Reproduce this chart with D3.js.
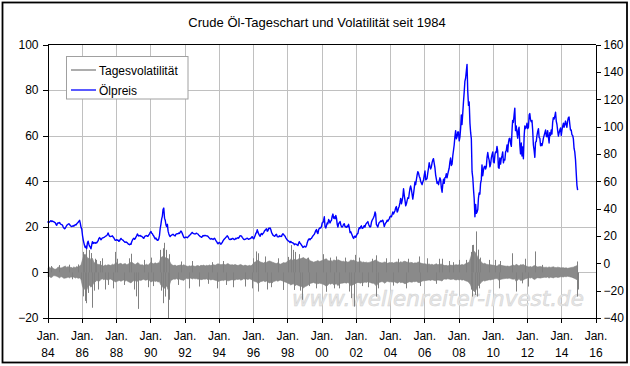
<!DOCTYPE html>
<html><head><meta charset="utf-8">
<script src="https://cdn.jsdelivr.net/npm/d3@7"></script>
<style>
body{margin:0;background:#fff;}
svg{display:block;font-family:"Liberation Sans",Arial,sans-serif;}
</style></head><body>
<svg id="c" width="630" height="366"></svg>
<script>
// ---- DATA ----
const title = "Crude Öl-Tageschart und Volatilität seit 1984";
const seriesNames = ["Tagesvolatilität", "Ölpreis"];
const xTickYears = [1984,1986,1988,1990,1992,1994,1996,1998,2000,2002,2004,2006,2008,2010,2012,2014,2016];
const xTickLabels = ["84","86","88","90","92","94","96","98","00","02","04","06","08","10","12","14","16"];
const leftTicks = [-20,0,20,40,60,80,100];
const rightTicks = [-40,-20,0,20,40,60,80,100,120,140,160];
const watermark = "www.wellenreiter-invest.de";

// Ölpreis (right axis), two readings per month (1st/16th), 1984..2014
const oilYears = [1984,1985,1986,1987,1988,1989,1990,1991,1992,1993,1994,1995,1996,1997,1998,1999,2000,2001,2002,2003,2004,2005,2006,2007,2008,2009,2010,2011,2012,2013,2014];
const oilPrice = [
 29.9,30.4,30.0,30.3,30.8,31.2,30.6,30.9,30.5,30.4,29.9,29.6,28.4,27.8,29.2,29.6,29.4,29.8,28.9,28.5,28.2,27.9,26.5,25.8,
 25.2,25.8,26.9,27.8,28.2,28.6,28.9,28.5,27.6,27.2,26.9,27.3,27.1,27.6,27.5,28.3,28.0,28.9,29.4,30.0,30.8,31.4,29.2,26.3,
 25.0,20.5,17.2,14.8,13.0,11.5,12.5,10.8,14.8,16.2,14.0,12.5,11.8,10.6,13.5,15.8,14.5,15.2,15.0,14.6,15.2,14.9,15.8,16.5,
 18.2,18.8,18.0,17.2,17.9,18.6,18.7,18.9,19.2,19.6,20.0,20.3,21.0,22.2,20.8,19.8,19.5,19.7,19.8,20.1,19.2,18.6,17.6,16.8,
 17.0,17.3,16.8,16.9,16.1,16.4,17.5,18.2,17.6,17.2,16.8,16.2,15.7,15.3,15.6,15.3,14.8,14.2,13.8,13.6,14.2,13.9,15.8,16.9,
 17.8,18.3,17.6,18.1,19.2,20.1,21.5,20.5,19.9,20.2,20.3,19.7,19.8,19.3,18.6,18.3,19.5,20.0,20.1,20.3,19.7,19.9,20.8,21.6,
 22.6,23.2,22.0,21.6,20.6,20.0,18.8,17.8,18.5,17.6,16.8,16.9,17.9,20.2,25.6,28.5,32.5,34.5,39.5,40.4,33.0,31.5,28.2,26.8,
 28.5,23.5,21.5,20.1,19.5,20.3,20.6,20.9,21.2,20.8,20.2,20.0,21.2,21.5,21.7,21.6,22.1,21.8,22.8,23.6,22.9,21.7,20.4,19.1,
 18.6,18.9,19.2,18.9,18.7,19.3,19.8,20.5,20.8,21.4,22.2,22.6,21.9,21.7,21.5,21.4,21.8,22.0,21.6,21.3,20.6,20.1,19.5,19.4,
 19.0,19.6,20.3,20.0,20.4,20.2,20.3,20.1,20.0,19.7,18.9,18.5,17.8,17.7,18.1,17.8,17.4,17.9,18.3,17.6,16.5,16.0,14.8,14.2,
 14.9,15.3,14.5,14.0,14.6,15.2,16.4,17.2,17.8,18.3,19.0,19.5,20.1,19.4,18.3,17.5,17.3,17.8,17.5,18.2,18.1,17.7,17.3,17.6,
 18.3,18.0,18.5,18.8,18.4,19.3,20.2,20.1,19.8,19.0,18.2,17.6,17.4,17.5,17.8,18.0,18.4,17.9,17.5,17.9,18.1,18.3,19.1,19.5,
 18.4,17.9,19.0,20.4,21.8,22.5,24.5,22.8,21.5,20.5,19.8,21.2,21.8,20.9,21.8,22.3,23.6,24.2,24.8,25.2,23.5,23.9,25.6,25.4,
 25.9,24.5,22.4,21.5,20.6,20.3,19.8,20.0,21.0,21.2,19.5,19.3,19.4,20.1,19.6,19.9,19.6,21.1,21.6,21.0,20.3,19.8,18.6,17.8,
 17.0,16.6,16.2,15.8,15.2,16.0,15.4,15.0,14.9,14.5,13.6,14.2,14.0,13.8,13.4,13.0,14.8,15.8,14.7,14.2,13.2,12.5,11.6,11.9,
 12.5,12.2,11.9,13.0,14.8,16.4,17.5,17.9,17.2,18.0,18.2,19.2,20.0,20.6,21.2,22.5,23.9,24.7,22.5,21.8,24.5,25.5,26.0,25.8,
 27.0,29.5,29.8,31.5,34.0,27.0,25.8,27.5,29.5,29.0,32.0,31.0,29.5,30.8,31.5,34.5,36.0,33.0,34.0,32.5,35.0,33.0,28.5,26.5,
 29.0,29.8,30.5,28.2,26.8,26.5,27.2,28.5,29.0,27.0,26.5,26.3,27.3,26.8,28.5,26.0,22.5,23.0,21.8,20.5,19.0,18.2,19.5,19.8,
 19.0,20.4,21.5,21.9,24.5,26.0,25.5,26.8,27.4,25.5,25.8,26.6,27.5,26.4,28.5,29.2,29.8,30.5,28.6,27.3,26.5,27.0,30.0,31.5,
 32.5,33.5,35.0,37.5,36.0,28.5,27.5,26.5,28.5,29.8,30.2,31.0,30.5,31.2,31.5,29.5,26.8,28.5,29.5,30.0,31.5,30.8,31.8,32.5,
 34.0,34.5,34.0,35.8,37.5,36.0,37.3,38.5,40.5,41.5,37.5,38.3,40.5,41.8,44.5,47.5,43.5,45.8,49.0,54.5,49.5,46.0,42.0,43.5,
 46.0,48.0,47.5,51.5,54.5,56.5,54.0,50.5,47.0,50.5,55.0,59.5,57.5,61.0,64.5,67.0,66.0,63.5,62.5,60.0,58.5,57.5,59.5,61.0,
 64.5,67.5,61.0,61.5,62.0,66.0,69.5,73.5,71.0,69.0,70.5,73.5,75.5,76.5,73.0,70.0,64.5,61.5,58.5,59.5,57.5,60.5,62.5,61.0,
 55.0,52.0,58.0,61.5,58.5,62.5,63.0,65.5,62.5,65.0,67.5,69.5,74.0,77.0,71.5,72.5,78.5,82.5,86.5,92.5,97.0,91.0,92.5,96.0,
 96.0,89.5,92.5,99.0,108.5,101.5,110.0,118.0,125.0,133.0,135.5,140.5,145.5,126.0,115.5,118.0,102.5,95.5,91.0,67.0,62.5,54.0,47.0,34.0,
 43.0,36.5,37.5,39.5,47.5,51.5,50.5,58.5,61.0,72.0,64.0,68.0,70.5,71.0,69.0,70.5,77.5,81.0,77.5,75.5,70.5,72.5,77.0,79.5,
 81.5,74.0,73.5,79.5,81.5,81.0,85.5,82.0,70.0,69.5,77.0,72.5,76.5,78.5,81.5,73.5,76.0,75.5,81.5,82.5,86.5,81.5,88.0,91.0,
 91.5,87.5,85.5,97.5,104.5,103.0,108.5,113.5,97.0,100.5,95.5,91.5,97.5,99.5,86.5,80.0,88.0,78.5,85.0,76.5,93.0,100.5,98.5,99.5,
 102.5,98.5,99.5,108.5,109.5,105.0,103.5,104.5,97.5,86.5,82.5,77.5,88.5,89.0,93.5,96.5,98.5,92.0,91.5,86.0,87.5,86.0,88.5,91.5,
 93.5,95.5,97.5,93.0,92.5,97.0,92.5,88.0,95.5,93.5,97.5,94.5,103.0,106.5,105.5,107.5,110.5,104.0,101.5,97.0,93.0,95.5,97.5,99.0,
 93.5,97.5,100.5,102.5,99.5,101.5,104.0,101.5,99.5,104.0,106.5,107.0,102.0,97.5,97.5,94.0,93.5,91.0,84.0,81.5,75.5,66.0,57.0,53.5
];

// Tagesvolatilität (left axis): monthly upper / lower envelope of the dense band
const volHigh = [
 2.0,2.3,1.8,2.2,1.5,1.4,1.6,2.4,2.1,1.9,2.2,2.5,
 2.8,2.2,2.6,2.0,2.3,1.9,2.4,2.1,2.6,2.3,2.8,3.2,
 5.5,7.5,8.0,7.0,6.0,6.5,5.5,6.2,4.5,4.0,3.8,3.5,
 3.5,3.2,3.0,2.8,3.3,3.0,3.4,3.2,3.0,3.6,3.3,4.0,
 4.2,3.6,3.8,4.0,3.5,3.7,3.9,3.4,3.6,4.1,4.5,4.3,
 3.8,3.5,3.9,4.3,3.6,3.2,3.4,3.0,3.3,3.6,3.1,3.8,
 4.5,4.0,3.8,4.2,3.9,4.1,4.4,6.5,6.8,7.5,6.5,6.0,
 6.2,5.0,3.8,3.3,3.0,3.2,2.8,3.0,3.1,3.3,3.0,3.4,
 3.0,2.8,2.6,2.9,2.7,3.0,2.8,2.6,2.9,3.0,2.7,3.1,
 3.0,3.2,2.8,3.1,2.9,3.3,3.0,3.2,3.4,3.1,3.5,3.8,
 3.6,3.4,3.5,3.8,3.3,3.6,3.9,3.5,3.3,3.4,3.2,3.5,
 3.2,3.0,3.3,3.5,3.1,2.9,3.2,3.0,2.8,3.1,2.9,3.2,
 4.2,4.6,4.8,5.5,4.9,4.5,4.3,4.1,4.6,4.4,4.8,5.0,
 4.8,4.5,4.3,4.0,3.9,4.2,3.8,3.6,4.0,4.3,4.1,4.5,
 5.0,5.3,5.8,5.5,5.2,6.0,5.5,5.7,6.2,6.0,6.3,6.5,
 6.0,5.8,6.3,5.5,5.0,4.8,4.5,4.7,4.9,5.2,4.8,5.0,
 5.2,5.5,5.8,6.0,5.2,5.0,5.4,4.8,5.5,5.3,5.0,5.6,
 5.3,5.0,4.8,4.9,4.6,4.8,4.5,4.7,5.5,5.2,5.4,5.0,
 4.8,4.5,4.7,4.9,4.4,4.6,4.3,4.5,4.2,4.4,4.6,4.8,
 5.0,5.3,5.5,4.8,4.5,4.3,4.1,4.4,4.6,4.2,4.0,4.3,
 4.2,4.4,4.1,4.3,4.6,4.5,4.2,4.7,4.4,4.8,4.9,4.6,
 4.5,4.2,4.4,4.3,4.0,4.2,4.1,4.5,4.6,4.1,3.9,3.8,
 3.8,3.6,3.5,3.7,3.4,3.6,3.3,3.5,3.8,3.4,3.5,3.6,
 3.6,3.2,3.0,3.1,2.9,3.0,3.2,3.1,3.0,3.3,3.4,3.2,
 3.4,3.2,3.5,3.3,3.6,4.0,4.2,4.5,6.5,8.5,9.5,9.0,
 8.0,6.5,6.0,5.0,4.2,3.8,4.0,3.6,3.5,3.3,3.4,3.2,
 3.1,3.0,2.8,2.9,3.5,3.2,3.0,2.9,2.8,2.7,2.8,2.6,
 2.8,3.0,3.2,2.9,3.6,3.2,2.8,3.4,3.3,3.5,3.0,2.8,
 2.5,2.4,2.6,2.3,2.8,3.0,2.7,2.4,2.5,2.6,2.4,2.3,
 2.2,2.3,2.1,2.4,2.2,2.3,2.5,2.2,2.1,2.3,2.2,2.0,
 2.0,2.1,1.9,2.0,1.8,1.9,2.1,2.2,2.3,2.6,2.8,3.2
];
const volLow = [
 -2.1,-1.8,-2.3,-1.9,-1.4,-1.5,-1.7,-2.0,-2.4,-1.8,-2.1,-2.6,
 -2.5,-2.3,-2.0,-2.4,-1.9,-2.2,-2.0,-2.5,-2.2,-2.6,-2.4,-3.0,
 -6.0,-7.5,-7.0,-7.8,-6.2,-5.5,-6.5,-5.8,-4.5,-4.2,-3.5,-3.8,
 -3.8,-3.0,-2.8,-3.2,-2.9,-3.1,-3.3,-3.0,-2.9,-3.4,-3.5,-4.2,
 -4.0,-3.7,-3.5,-3.9,-3.6,-3.3,-3.8,-3.6,-4.0,-4.3,-4.6,-4.0,
 -3.6,-3.8,-3.4,-4.0,-3.3,-3.5,-3.2,-3.0,-3.4,-3.3,-3.1,-3.6,
 -4.2,-3.9,-3.6,-4.0,-3.8,-4.2,-4.0,-5.5,-6.2,-7.0,-6.8,-5.8,
 -7.5,-5.5,-3.6,-3.2,-2.9,-3.0,-2.7,-3.1,-2.9,-3.2,-3.3,-3.5,
 -2.9,-2.6,-2.8,-2.7,-2.5,-2.9,-2.6,-2.8,-2.7,-3.0,-2.8,-3.2,
 -3.1,-2.9,-3.0,-2.8,-3.2,-3.0,-3.3,-3.1,-3.2,-3.4,-3.6,-4.0,
 -3.8,-3.5,-3.4,-3.6,-3.2,-3.5,-3.7,-3.6,-3.3,-3.2,-3.4,-3.3,
 -3.0,-3.1,-2.9,-3.4,-3.2,-2.8,-3.0,-2.9,-3.1,-2.8,-3.0,-3.3,
 -3.8,-4.0,-4.2,-4.8,-4.5,-4.0,-3.9,-3.7,-4.1,-3.8,-4.2,-4.6,
 -4.4,-4.6,-4.0,-3.8,-3.6,-3.9,-3.5,-3.4,-3.7,-4.0,-4.2,-4.4,
 -4.8,-5.0,-5.5,-5.2,-5.0,-5.8,-5.4,-5.6,-6.0,-5.8,-6.4,-6.8,
 -6.2,-6.0,-5.6,-5.2,-4.8,-4.6,-4.4,-4.7,-4.8,-5.0,-4.7,-4.9,
 -5.0,-5.3,-5.6,-6.2,-5.5,-4.9,-5.2,-4.7,-5.4,-5.2,-5.0,-5.8,
 -5.2,-4.8,-4.7,-4.6,-4.5,-4.7,-4.4,-4.8,-5.8,-5.6,-5.3,-5.0,
 -4.6,-4.4,-4.5,-4.7,-4.3,-4.5,-4.2,-4.4,-4.1,-4.3,-4.5,-4.7,
 -4.8,-5.2,-6.0,-5.0,-4.4,-4.2,-4.0,-4.3,-4.8,-4.1,-3.9,-4.2,
 -4.0,-4.3,-4.0,-4.2,-4.5,-4.7,-4.1,-4.5,-4.3,-4.6,-5.0,-4.7,
 -4.4,-4.1,-4.2,-4.3,-4.0,-4.1,-3.9,-4.3,-4.5,-4.2,-3.8,-3.7,
 -3.6,-3.5,-3.4,-3.3,-3.5,-3.2,-3.4,-3.6,-3.7,-3.3,-3.4,-3.5,
 -3.8,-3.0,-2.9,-3.0,-2.8,-2.9,-3.1,-3.0,-2.9,-3.2,-3.3,-3.1,
 -3.3,-3.1,-3.4,-3.2,-3.5,-3.8,-4.0,-4.5,-5.5,-7.5,-8.0,-8.5,
 -7.5,-6.0,-5.5,-4.8,-4.0,-3.6,-3.8,-3.5,-3.4,-3.2,-3.3,-3.1,
 -3.0,-2.8,-2.7,-2.8,-3.6,-3.1,-2.9,-2.8,-2.7,-2.6,-2.7,-2.5,
 -2.7,-2.9,-3.0,-2.8,-4.0,-3.4,-2.7,-3.6,-3.4,-3.3,-2.9,-2.7,
 -2.4,-2.3,-2.5,-2.2,-2.9,-3.1,-2.6,-2.3,-2.4,-2.5,-2.3,-2.2,
 -2.1,-2.2,-2.0,-2.5,-2.1,-2.2,-2.4,-2.1,-2.0,-2.2,-2.1,-1.9,
 -1.9,-2.0,-1.8,-1.9,-1.7,-1.8,-2.0,-2.1,-2.4,-2.7,-3.0,-3.5
];
// single-day outliers of the volatility series [date, value]
const volSpikes = [
 ["1984-03-10",2.8],["1984-09-12",3.2],["1985-04-10",3.4],["1985-06-14",-3.0],["1985-10-08",3.5],["1985-12-12",-3.4],
 ["1986-01-20",9.0],["1986-02-05",-10.5],["1986-02-20",7.8],["1986-03-10",-12.5],["1986-03-25",10.5],["1986-04-08",-13.5],
 ["1986-05-12",-9.0],["1986-06-10",9.8],["1986-07-25",8.5],["1986-08-05",-15.5],["1986-10-10",6.0],["1986-12-10",-7.5],
 ["1986-09-10",-8.0],["1986-11-05",5.5],["1987-01-20",5.0],["1987-07-15",-5.5],
 ["1987-03-10",6.2],["1987-05-12",-7.5],["1987-10-20",-7.0],["1987-12-10",9.0],["1988-01-15",6.0],["1988-06-10",-5.5],
 ["1988-10-10",6.2],["1988-11-20",8.2],["1989-01-15",-7.5],["1989-03-10",-10.5],["1989-04-05",-16.0],["1989-08-10",5.5],["1989-11-10",-6.5],
 ["1990-01-10",6.5],["1990-03-10",-6.0],["1990-08-06",9.9],["1990-08-20",-8.0],["1990-09-20",10.6],["1990-10-10",-13.5],
 ["1990-10-22",13.0],["1990-11-10",-10.6],["1990-12-10",9.9],["1991-01-17",-20.0],["1991-01-25",8.0],["1991-02-15",-12.0],
 ["1991-08-19",-5.5],["1991-10-10",4.8],["1992-04-10",-7.0],["1992-06-10",5.0],["1992-11-10",-6.2],["1993-05-10",-5.0],
 ["1993-08-10",4.5],["1993-11-25",-7.0],["1994-04-10",5.0],["1994-06-10",-5.5],["1994-11-10",-6.5],["1995-07-10",-6.2],
 ["1995-12-10",-7.0],["1996-01-10",6.2],["1996-03-10",9.2],["1996-04-10",8.4],["1996-04-25",-8.4],["1996-09-10",7.0],
 ["1996-10-20",-7.5],["1997-01-20",-6.5],["1997-06-10",6.2],["1997-10-10",-7.7],["1998-01-10",6.8],["1998-03-20",12.0],
 ["1998-05-10",9.9],["1998-06-20",9.0],["1998-05-25",-7.7],["1998-09-10",8.0],["1998-11-20",-12.0],["1998-10-10",-8.0],
 ["1999-03-10",6.5],["1999-04-10",-6.0],["1999-09-10",-7.0],["2000-02-10",8.0],["2000-04-10",-8.5],["2000-11-10",7.0],
 ["2000-06-20",6.5],["2000-09-20",-7.0],["2002-03-15",6.5],["2002-05-20",-6.0],
 ["2001-01-10",-7.0],["2001-05-10",6.5],["2001-08-10",-8.4],["2001-09-24",-11.3],["2001-11-15",-15.0],["2001-12-10",7.7],
 ["2002-09-10",-6.5],["2002-12-10",6.0],["2003-03-19",-10.6],["2003-03-05",7.5],["2003-04-10",-7.0],["2003-10-10",6.2],
 ["2004-03-10",-5.8],["2004-06-10",6.0],["2004-12-10",-7.0],["2005-01-20",6.0],["2005-09-10",7.0],["2005-09-25",-6.0],
 ["2006-03-10",6.2],["2006-09-10",-5.0],["2006-11-10",6.0],["2007-01-20",6.0],["2007-06-10",5.0],["2007-09-10",4.5],
 ["2008-01-10",5.5],["2008-06-06",5.5],["2008-09-22",9.0],["2008-09-30",-7.5],["2008-10-20",12.0],["2008-10-10",-10.6],
 ["2008-11-15",12.1],["2008-12-29",18.0],["2008-12-19",-9.9],["2009-01-15",14.3],["2009-01-20",-10.6],["2009-02-20",10.0],
 ["2009-03-10",-7.0],["2009-04-10",6.5],["2009-10-10",5.5],["2010-02-15",5.5],["2010-05-10",-7.0],["2010-06-10",5.0],
 ["2011-02-20",8.4],["2011-05-05",-8.4],["2011-09-10",-4.8],["2011-11-10",6.0],["2012-01-20",-6.2],["2012-06-29",9.2],
 ["2012-11-10",3.3],["2014-11-28",-10.6],["2014-12-10",4.8],["2014-12-20",-7.5]
];

// ---- CHART ----
const svg = d3.select("#c");
const pL = 47.5, pR = 595.5, pT = 44.5, pB = 318;

const x = d3.scaleTime().domain([new Date(1984,0,1), new Date(2016,0,1)]).range([pL, pR]);
const yL = d3.scaleLinear().domain([-20,100]).range([pB, pT]);
const yR = d3.scaleLinear().domain([-40,160]).range([pB, pT]);

// outer frame
svg.append("rect").attr("x",2.5).attr("y",2.5).attr("width",624.5).attr("height",360)
  .attr("fill","#fff").attr("stroke","#000").attr("stroke-width",1.8);

// title
svg.append("text").attr("x",317).attr("y",27).attr("text-anchor","middle")
  .attr("font-size","13px").attr("fill","#000").text(title);

// gridlines
const grid = svg.append("g").attr("stroke","#c0c0c0").attr("stroke-width",1).attr("shape-rendering","crispEdges");
leftTicks.filter(v => v > -20 && v < 100).forEach(v => {
  grid.append("line").attr("x1",pL).attr("x2",pR).attr("y1",Math.round(yL(v))+0.5).attr("y2",Math.round(yL(v))+0.5);
});
xTickYears.filter(yv => yv > 1984 && yv < 2016).forEach(yv => {
  const xx = Math.round(x(new Date(yv,0,1)))+0.5;
  grid.append("line").attr("x1",xx).attr("x2",xx).attr("y1",pT).attr("y2",pB);
});

// watermark
svg.append("text").attr("x",584).attr("y",306).attr("text-anchor","end")
  .attr("font-family","'DejaVu Sans',Verdana,sans-serif").attr("font-style","italic")
  .attr("font-size","21px").attr("fill","#e6e6e6").attr("stroke","#d2d2d2").attr("stroke-width",0.5)
  .attr("textLength",292).attr("lengthAdjust","spacingAndGlyphs")
  .text(watermark);

// volatility
const volDates = volHigh.map((_, i) => new Date(1984 + Math.floor(i/12), i % 12, 15));
const volData = volHigh.map((h, i) => ({d: volDates[i], h: h, l: volLow[i]}));
svg.append("path").datum(volData)
  .attr("d", d3.area().x(d => x(d.d)).y0(d => yL(d.l)).y1(d => yL(d.h)))
  .attr("fill","#8a8a8a").attr("stroke","#808080").attr("stroke-width",0.6);
const parse = d3.timeParse("%Y-%m-%d");
svg.append("g").selectAll("line").data(volSpikes).join("line")
  .attr("x1", d => Math.round(x(parse(d[0])))+0.5).attr("x2", d => Math.round(x(parse(d[0])))+0.5)
  .attr("y1", yL(0)).attr("y2", d => yL(d[1]))
  .attr("stroke","#808080").attr("stroke-width",1);

// oil price
const oilData = oilPrice.map((v, i) => {
  const yr = oilYears[Math.floor(i/24)], k = i % 24;
  return {d: new Date(yr, Math.floor(k/2), k % 2 === 0 ? 1 : 16), v: v};
});
svg.append("path").datum(oilData)
  .attr("d", d3.line().x(d => x(d.d)).y(d => yR(d.v)))
  .attr("fill","none").attr("stroke","#0000ff").attr("stroke-width",1.4).attr("stroke-linejoin","round");

// axes
const axFont = g => g.selectAll("text").attr("font-size","12px").attr("fill","#000").attr("font-family","'Liberation Sans',Arial,sans-serif");
const axL = svg.append("g").attr("transform",`translate(${pL},0)`)
  .call(d3.axisLeft(yL).tickValues(leftTicks).tickSize(5).tickSizeOuter(0).tickPadding(4));
axL.call(axFont);
const axR = svg.append("g").attr("transform",`translate(${pR},0)`)
  .call(d3.axisRight(yR).tickValues(rightTicks).tickSize(5).tickSizeOuter(0).tickPadding(3));
axR.call(axFont);
const axB = svg.append("g").attr("transform",`translate(0,${pB})`)
  .call(d3.axisBottom(x).tickValues(xTickYears.map(yv => new Date(yv,0,1))).tickSize(5).tickSizeOuter(0).tickFormat(""));
axB.selectAll(".tick").each(function(d, i) {
  const t = d3.select(this).append("text").attr("fill","#000").attr("font-size","12px")
    .attr("text-anchor","middle").attr("font-family","'Liberation Sans',Arial,sans-serif");
  t.append("tspan").attr("x",0).attr("y",22).text("Jan.");
  t.append("tspan").attr("x",0).attr("y",39).text(xTickLabels[i]);
});
[axL, axR, axB].forEach(a => a.selectAll("path,line").attr("stroke","#000").attr("shape-rendering","crispEdges"));
// top border of plot
svg.append("line").attr("x1",pL).attr("x2",pR).attr("y1",pT).attr("y2",pT)
  .attr("stroke","#000").attr("shape-rendering","crispEdges");

// legend
const lg = svg.append("g");
lg.append("rect").attr("x",66.5).attr("y",56.5).attr("width",121.5).attr("height",42.5)
  .attr("fill","#fff").attr("stroke","#a0a0a0").attr("stroke-width",1);
const lgColors = ["#808080","#0000ff"];
seriesNames.forEach((n, i) => {
  const yy = 70 + i*20;
  lg.append("line").attr("x1",71).attr("x2",96).attr("y1",yy).attr("y2",yy)
    .attr("stroke",lgColors[i]).attr("stroke-width",1.3);
  lg.append("text").attr("x",99).attr("y",yy+4.5).attr("font-size","12px").attr("fill","#000").text(n);
});
</script>
</body></html>
